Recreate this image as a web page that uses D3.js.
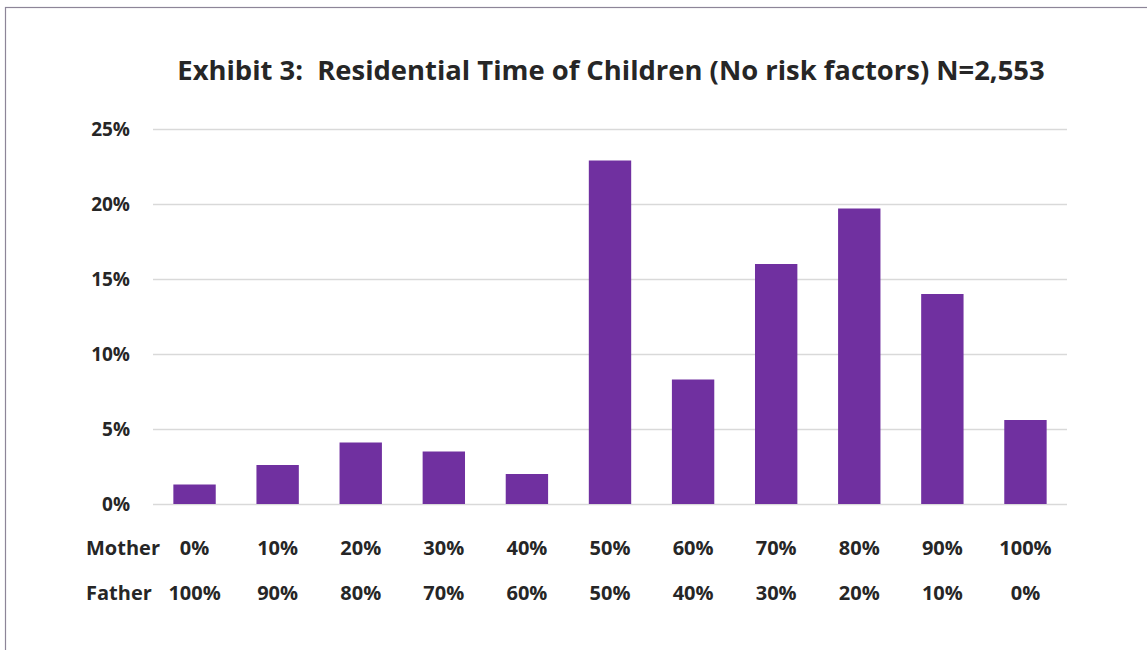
<!DOCTYPE html>
<html>
<head>
<meta charset="utf-8">
<script src="https://cdn.jsdelivr.net/npm/d3@7"></script>
<style>
  body { margin: 0; background: #fff; }
  svg { display: block; font-family: "Open Sans", Lato, sans-serif; }
</style>
</head>
<body>
<div id="chart"></div>
<script>
// chart data
var mother_labels = ['0%', '10%', '20%', '30%', '40%', '50%', '60%', '70%', '80%', '90%', '100%'];
var father_labels = ['100%', '90%', '80%', '70%', '60%', '50%', '40%', '30%', '20%', '10%', '0%'];
var share_values = [1.3, 2.6, 4.1, 3.5, 2.0, 22.9, 8.3, 16.0, 19.7, 14.0, 5.6];
var y_ticks = [0, 5, 10, 15, 20, 25];
var title_text = 'Exhibit 3:  Residential Time of Children (No risk factors) N=2,553';

var full_width = 1147,
    full_height = 650,
    margin = {top: 129, right: 80, bottom: 146, left: 153},
    width = full_width - margin.left - margin.right,
    height = full_height - margin.top - margin.bottom,
    bar_colour = '#7030a0',
    text_colour = '#262626';

var svg_root = d3.select('#chart').append('svg')
    .attr('width', full_width)
    .attr('height', full_height);

// outer frame
svg_root.append('rect')
    .attr('x', 5.5)
    .attr('y', 7.5)
    .attr('width', full_width + 10)
    .attr('height', full_height + 10)
    .style('fill', 'none')
    .style('stroke', '#8d8598')
    .style('stroke-width', 1.2);

svg_root.append('text')
    .attr('x', 611)
    .attr('y', 80)
    .style('text-anchor', 'middle')
    .style('white-space', 'pre')
    .style('font-size', '27.4px')
    .style('font-weight', 'bold')
    .style('fill', text_colour)
    .text(title_text);

var svg = svg_root.append('g')
    .attr('transform', 'translate(' + margin.left + ',' + margin.top + ')');

var xScale = d3.scaleBand()
    .domain(mother_labels)
    .range([0, width])
    .paddingInner(0.49)
    .paddingOuter(0.245);

var yScale = d3.scaleLinear()
    .domain([0, 25])
    .range([height, 0]);

// gridlines
var yAxis = d3.axisLeft(yScale)
    .tickValues(y_ticks)
    .tickSizeInner(-width)
    .tickSizeOuter(0)
    .tickPadding(23)
    .tickFormat(function(d) { return d + '%'; });

var y_axis_elem = svg.append('g')
    .attr('class', 'y axis')
    .call(yAxis);

y_axis_elem.select('.domain').remove();
y_axis_elem.selectAll('line')
    .style('stroke', '#d9d9d9')
    .style('stroke-width', 1.5);
y_axis_elem.selectAll('text')
    .style('font-size', '19px')
    .style('font-weight', 'bold')
    .style('font-family', '"Open Sans", Lato, sans-serif')
    .style('fill', text_colour);

svg.selectAll('.bar')
    .data(share_values)
    .enter()
    .append('rect')
    .attr('class', 'bar')
    .attr('x', function(d, i) { return xScale(mother_labels[i]); })
    .attr('width', xScale.bandwidth())
    .attr('y', function(d) { return yScale(d); })
    .attr('height', function(d) { return height - yScale(d); })
    .style('fill', bar_colour);

// category label rows
var rows = [
    {name: 'Mother', labels: mother_labels, y: height + 51},
    {name: 'Father', labels: father_labels, y: height + 96}
];

rows.forEach(function(row) {
    svg.append('text')
        .attr('x', 86 - margin.left)
        .attr('y', row.y)
        .style('font-size', '20px')
        .style('font-weight', 'bold')
        .style('fill', text_colour)
        .text(row.name);

    svg.selectAll('.lbl-' + row.name)
        .data(row.labels)
        .enter()
        .append('text')
        .attr('class', 'lbl-' + row.name)
        .attr('x', function(d, i) { return xScale(mother_labels[i]) + xScale.bandwidth() / 2; })
        .attr('y', row.y)
        .style('text-anchor', 'middle')
        .style('font-size', '20px')
        .style('font-weight', 'bold')
        .style('fill', text_colour)
        .text(function(d) { return d; });
});
</script>
</body>
</html>
